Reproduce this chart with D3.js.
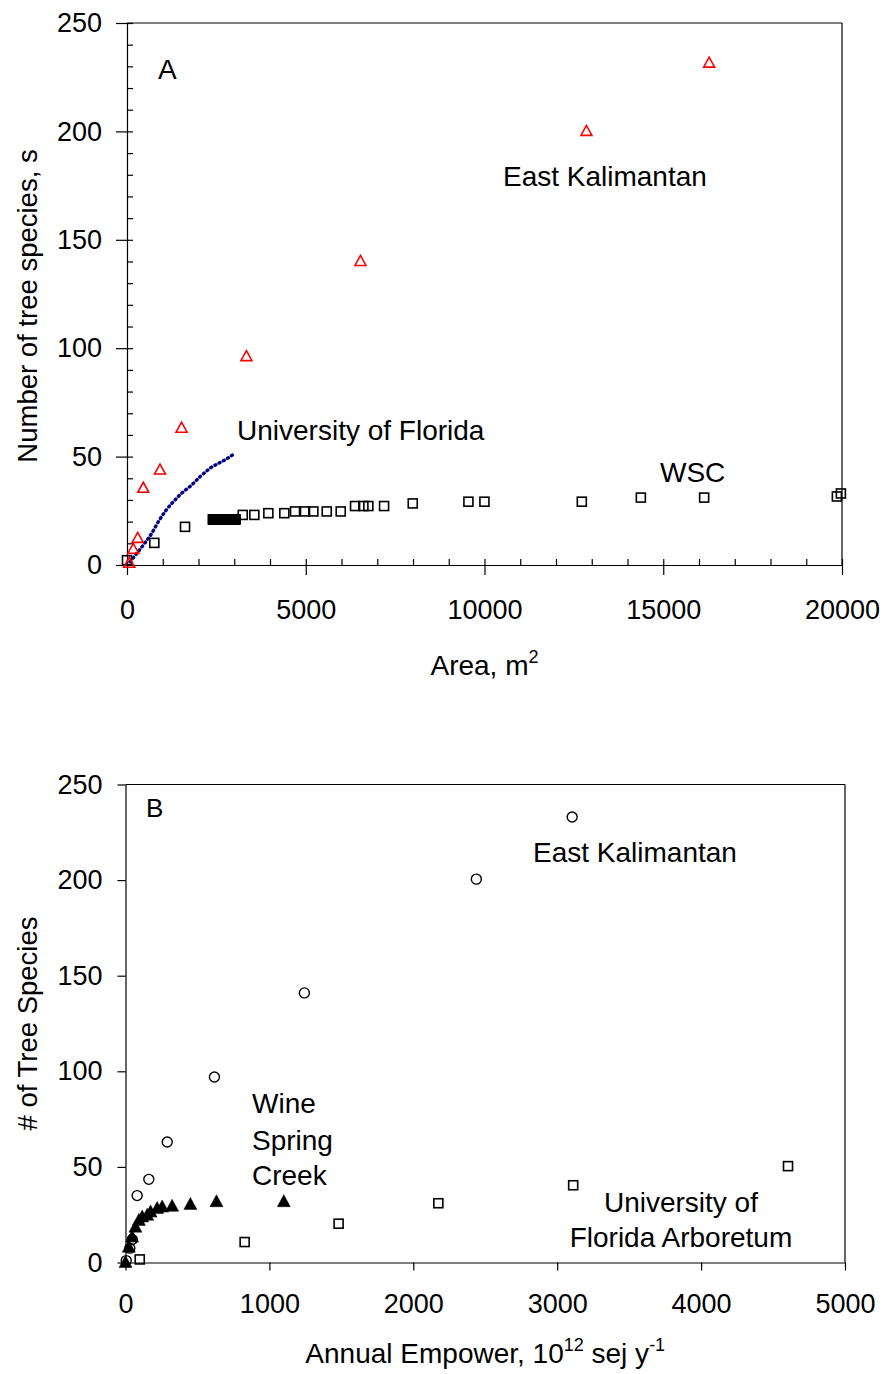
<!DOCTYPE html>
<html><head><meta charset="utf-8">
<script src="https://cdn.jsdelivr.net/npm/d3@7"></script>
<style>
body{margin:0;background:#fff}
svg{display:block}
text{font-family:"Liberation Sans",Arial,Helvetica,sans-serif;fill:#000}
</style>
</head><body>
<svg id="c" width="885" height="1374"></svg>
<script>
// ---------- Panel A data (area, m2 vs number of species) ----------
const ekAreaX = [64, 176, 299, 456, 923, 1525, 3341, 6530, 12851, 16284];
const ekAreaY = [0.8, 7.2, 12.3, 35.4, 43.8, 63.1, 96.1, 140, 200, 231.5];

const wscAreaX = [0, 764, 1623,
  2400, 2420, 2440, 2460, 2480, 2500, 2520, 2540, 2560, 2580, 2600, 2620, 2640, 2660, 2680, 2700,
  2720, 2740, 2760, 2780, 2800, 2820, 2840, 2860, 2880, 2900, 2920, 2940, 2960, 2980, 3000, 3020, 3040,
  3237, 3562, 3954, 4401, 4700, 4980, 5213, 5587, 5978, 6379, 6612, 6751, 7191, 7993,
  9550, 9998, 12722, 14373, 16144, 19857, 19969];
const wscAreaY = [2.2, 10.2, 17.6,
  21, 21, 21, 21, 21, 21, 21, 21, 21, 21, 21, 21, 21, 21, 21, 21,
  21, 21, 21, 21, 21, 21, 21, 21, 21, 21, 21, 21, 21, 21, 21, 21, 21,
  23.1, 23.1, 23.9, 23.9, 24.7, 24.7, 24.7, 24.7, 24.7, 27.2, 27.2, 27.2, 27.2, 28.4,
  29.2, 29.2, 29.2, 31.1, 31.1, 31.6, 33.0];

const ufAreaX = [84, 456, 691, 877, 1063, 1296, 1530, 1810, 2043, 2322, 2742, 3022];
const ufAreaY = [1.5, 9.2, 14.6, 20, 24.6, 29.2, 33.1, 36.9, 40.7, 44.6, 48.5, 51.5];

// ---------- Panel B data (annual empower vs number of species) ----------
const ekEmpX = [5, 30, 47, 81, 162, 290, 618, 1243, 2438, 3104];
const ekEmpY = [1, 7.5, 12, 35, 43.5, 63, 97, 141, 200.5, 233];

const wscEmpX = [0, 23, 46, 69, 93, 116, 151, 174, 220, 255, 324, 451, 632, 1100];
const wscEmpY = [0, 8, 13.3, 18.5, 22, 23.8, 24.7, 26.4, 28.2, 29, 29.4, 30.4, 31.8, 31.8];

const ufEmpX = [99, 828, 1481, 2174, 3111, 4604];
const ufEmpY = [1.6, 10.7, 20.3, 31, 40.4, 50.4];

// ---------- ticks ----------
const ticksAX = [0, 5000, 10000, 15000, 20000];
const ticksAY = [0, 50, 100, 150, 200, 250];
const ticksBX = [0, 1000, 2000, 3000, 4000, 5000];
const ticksBY = [0, 50, 100, 150, 200, 250];

const svg = d3.select("#c");
const FONT = 27;

function zipXY(xs, ys){ return xs.map((x,i)=>({x, y: ys[i]})); }

// ================= Panel A =================
const xA = d3.scaleLinear().domain([0, 20000]).range([127, 842]);
const yA = d3.scaleLinear().domain([0, 250]).range([565, 23]);
const gA = svg.append("g");

gA.append("line").attr("x1", xA(0)).attr("x2", xA(20000)).attr("y1", yA(250)).attr("y2", yA(250))
  .attr("stroke", "#000").attr("stroke-width", 1.2);
gA.append("line").attr("x1", xA(20000)).attr("x2", xA(20000)).attr("y1", yA(0)).attr("y2", yA(250))
  .attr("stroke", "#000").attr("stroke-width", 1.2);

// minor ticks (inside)
gA.append("g").attr("transform", `translate(0,${yA(0)})`)
  .call(d3.axisBottom(xA).tickValues(d3.range(0, 20001, 1000)).tickSize(-6).tickSizeOuter(0).tickFormat(""))
  .call(g => g.select(".domain").remove());
gA.append("g").attr("transform", `translate(${xA(0)},0)`)
  .call(d3.axisLeft(yA).tickValues(d3.range(0, 251, 10)).tickSize(-6).tickSizeOuter(0).tickFormat(""))
  .call(g => g.select(".domain").remove());

// major axes
const axAX = gA.append("g").attr("transform", `translate(0,${yA(0)})`)
  .call(d3.axisBottom(xA).tickValues(ticksAX).tickSize(10).tickSizeOuter(0).tickPadding(25).tickFormat(d3.format("d")));
const axAY = gA.append("g").attr("transform", `translate(${xA(0)},0)`)
  .call(d3.axisLeft(yA).tickValues(ticksAY).tickSize(11).tickSizeOuter(0).tickPadding(14).tickFormat(d3.format("d")));
[axAX, axAY].forEach(a => {
  a.selectAll("text").attr("font-size", FONT).attr("font-family", '"Liberation Sans",Arial,sans-serif').attr("fill", "#000");
  a.selectAll("line,path").attr("stroke", "#000").attr("stroke-width", 1.2);
});
gA.selectAll(".tick line").attr("stroke", "#000").attr("stroke-width", 1.2);

// UF dotted curve
gA.append("path").datum(zipXY(ufAreaX, ufAreaY))
  .attr("d", d3.line().x(d => xA(d.x)).y(d => yA(d.y)).curve(d3.curveMonotoneX))
  .attr("fill", "none").attr("stroke", "#000080").attr("stroke-width", 3.4)
  .attr("stroke-linecap", "round").attr("stroke-dasharray", "1,3.8");

// WSC squares
gA.append("g").selectAll("rect").data(zipXY(wscAreaX, wscAreaY)).join("rect")
  .attr("x", d => xA(d.x) - 4.5).attr("y", d => yA(d.y) - 4.5)
  .attr("width", 9).attr("height", 9)
  .attr("fill", "none").attr("stroke", "#000").attr("stroke-width", 1.6);

// EK triangles (red open)
gA.append("g").selectAll("path").data(zipXY(ekAreaX, ekAreaY)).join("path")
  .attr("transform", d => `translate(${xA(d.x)},${yA(d.y)})`)
  .attr("d", "M0,-6L5.5,4L-5.5,4Z")
  .attr("fill", "none").attr("stroke", "#ff0000").attr("stroke-width", 1.6);

// annotations A
gA.append("text").attr("x", xA(867)).attr("y", yA(224.3)).attr("font-size", 28).text("A");
gA.append("text").attr("x", xA(10517)).attr("y", yA(174.9)).attr("font-size", 28).text("East Kalimantan");
gA.append("text").attr("x", xA(3077)).attr("y", yA(57.7)).attr("font-size", 28).text("University of Florida");
gA.append("text").attr("x", xA(14909)).attr("y", yA(38.3)).attr("font-size", 28).text("WSC");

// axis titles A
const tA = gA.append("text").attr("x", (xA(0) + xA(20000)) / 2).attr("y", 675)
  .attr("text-anchor", "middle").attr("font-size", 28);
tA.append("tspan").text("Area, m");
tA.append("tspan").attr("font-size", 18).attr("dy", -12).text("2");
gA.append("text").attr("transform", `translate(37,${(yA(0) + yA(250)) / 2 + 12}) rotate(-90)`)
  .attr("text-anchor", "middle").attr("font-size", 27.5).text("Number of tree species, s");

// ================= Panel B =================
const xB = d3.scaleLinear().domain([0, 5000]).range([125.5, 845]);
const yB = d3.scaleLinear().domain([0, 250]).range([1262.5, 784.5]);
const gB = svg.append("g");

gB.append("line").attr("x1", xB(0)).attr("x2", xB(5000)).attr("y1", yB(250)).attr("y2", yB(250))
  .attr("stroke", "#000").attr("stroke-width", 1.2);
gB.append("line").attr("x1", xB(5000)).attr("x2", xB(5000)).attr("y1", yB(0)).attr("y2", yB(250))
  .attr("stroke", "#000").attr("stroke-width", 1.2);

const axBX = gB.append("g").attr("transform", `translate(0,${yB(0)})`)
  .call(d3.axisBottom(xB).tickValues(ticksBX).tickSize(8).tickSizeOuter(0).tickPadding(23).tickFormat(d3.format("d")));
const axBY = gB.append("g").attr("transform", `translate(${xB(0)},0)`)
  .call(d3.axisLeft(yB).tickValues(ticksBY).tickSize(8).tickSizeOuter(0).tickPadding(15).tickFormat(d3.format("d")));
[axBX, axBY].forEach(a => {
  a.selectAll("text").attr("font-size", FONT).attr("font-family", '"Liberation Sans",Arial,sans-serif').attr("fill", "#000");
  a.selectAll("line,path").attr("stroke", "#000").attr("stroke-width", 1.2);
});

// UF arboretum squares
gB.append("g").selectAll("rect").data(zipXY(ufEmpX, ufEmpY)).join("rect")
  .attr("x", d => xB(d.x) - 4.5).attr("y", d => yB(d.y) - 4.5)
  .attr("width", 9).attr("height", 9)
  .attr("fill", "none").attr("stroke", "#000").attr("stroke-width", 1.6);

// EK circles
gB.append("g").selectAll("circle").data(zipXY(ekEmpX, ekEmpY)).join("circle")
  .attr("cx", d => xB(d.x)).attr("cy", d => yB(d.y)).attr("r", 5)
  .attr("fill", "none").attr("stroke", "#000").attr("stroke-width", 1.4);

// WSC filled triangles
gB.append("g").selectAll("path").data(zipXY(wscEmpX, wscEmpY)).join("path")
  .attr("transform", d => `translate(${xB(d.x)},${yB(d.y)})`)
  .attr("d", "M0,-7L6.5,5L-6.5,5Z")
  .attr("fill", "#000").attr("stroke", "#000").attr("stroke-width", 0.5);

// annotations B
gB.append("text").attr("x", xB(142)).attr("y", yB(233)).attr("font-size", 26).text("B");
gB.append("text").attr("x", xB(2832)).attr("y", yB(209.5)).attr("font-size", 28).text("East Kalimantan");
const wsc = gB.append("text").attr("font-size", 28);
[["Wine", 78], ["Spring", 58.8], ["Creek", 40.5]].forEach(([t, v]) => {
  wsc.append("tspan").attr("x", xB(879)).attr("y", yB(v)).text(t);
});
const ufl = gB.append("text").attr("font-size", 28).attr("text-anchor", "middle");
[["University of", 26.4], ["Florida Arboretum", 8.1]].forEach(([t, v]) => {
  ufl.append("tspan").attr("x", xB(3860)).attr("y", yB(v)).text(t);
});

// axis titles B
const tB = gB.append("text").attr("x", (xB(0) + xB(5000)) / 2).attr("y", 1363)
  .attr("text-anchor", "middle").attr("font-size", 28);
tB.append("tspan").text("Annual Empower, 10");
tB.append("tspan").attr("font-size", 18).attr("dy", -12).text("12");
tB.append("tspan").attr("dy", 12).text(" sej y");
tB.append("tspan").attr("font-size", 18).attr("dy", -12).text("-1");
gB.append("text").attr("transform", `translate(37,${(yB(0) + yB(250)) / 2}) rotate(-90)`)
  .attr("text-anchor", "middle").attr("font-size", 27.5).text("# of Tree Species");
</script>
</body></html>
